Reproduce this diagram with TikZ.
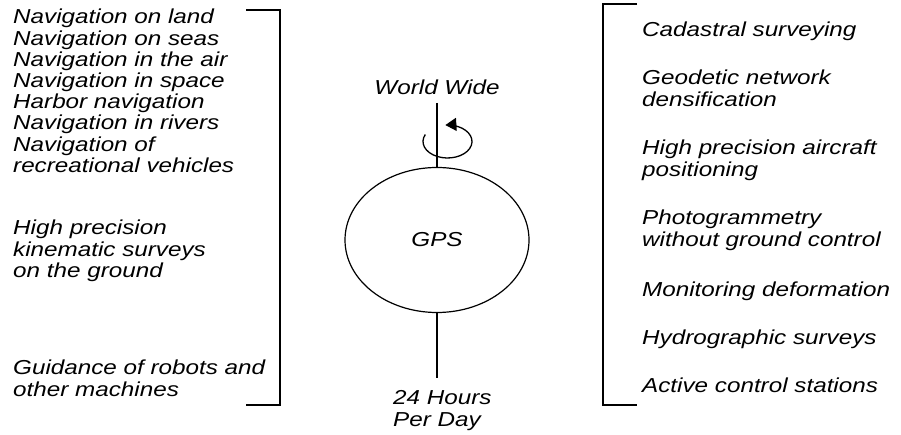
\documentclass[tikz,border=0pt]{standalone}
\usepackage{fontspec}
\newfontfamily\diagfont{Liberation Sans}[FakeStretch=1.2]
\usepackage{tikz}
\usetikzlibrary{arrows.meta,positioning,shapes.geometric}
\tikzset{
  usecase/.style={anchor=north west, align=left, inner sep=0pt, font=\diagfont\itshape\fontsize{20.2}{21.2}\selectfont},
  caption/.style={inner sep=0pt, font=\diagfont\itshape\fontsize{20.2}{21.8}\selectfont},
  globe/.style={draw, ellipse, line width=1.2pt, minimum width=184pt, minimum height=145pt, inner sep=0pt, font=\diagfont\itshape\fontsize{20.2}{21.2}\selectfont},
  axisline/.style={line width=1.2pt},
  bracket/.style={line width=1.3pt},
  spin/.style={line width=1.3pt, -{Triangle[length=11pt,width=13pt]}}
}
\begin{document}
\begin{tikzpicture}[x=1pt,y=1pt]
  \useasboundingbox (0,0) rectangle (901,435);

  \node[globe] (gps) at (437,195) {GPS};
  \node[caption, anchor=base] (worldwide) at (437,340) {World Wide};
  \node[caption, anchor=north west, align=left] (perday) at (393,45) {24 Hours\\Per Day};
  \coordinate (axistop) at (437,332);
  \coordinate (axisbot) at (437,57);
  \coordinate (spincentre) at (447.5,293.5);

  \draw[axisline] (axistop) -- (gps.north);
  \draw[axisline] (gps.south) -- (axisbot);
  \draw[spin] ([shift={(155:24.5 and 16.5)}]spincentre) arc[start angle=155, end angle=455, x radius=24.5, y radius=16.5];

  \node[usecase] (navigation) at (13,426) {Navigation on land\\Navigation on seas\\Navigation in the air\\Navigation in space\\Harbor navigation\\Navigation in rivers\\Navigation of\\recreational vehicles};
  \node[usecase] (kinematic) at (13,215) {High precision\\kinematic surveys\\on the ground};
  \node[usecase] (robots) at (13,75) {Guidance of robots and\\other machines};

  \node[usecase] (cadastral) at (642,413) {Cadastral surveying};
  \node[usecase] (geodetic) at (642,365) {Geodetic network\\densification};
  \node[usecase] (aircraft) at (642,295) {High precision aircraft\\positioning};
  \node[usecase] (photogrammetry) at (642,225) {Photogrammetry\\without ground control};
  \node[usecase] (deformation) at (642,153) {Monitoring deformation};
  \node[usecase] (hydrographic) at (642,105) {Hydrographic surveys};
  \node[usecase] (active) at (642,57) {Active control stations};

  \draw[bracket] (246,425) -- (280,425) -- (280,30) -- (246,30);
  \draw[bracket] (637,431) -- (603,431) -- (603,30) -- (637,30);
\end{tikzpicture}
\end{document}
